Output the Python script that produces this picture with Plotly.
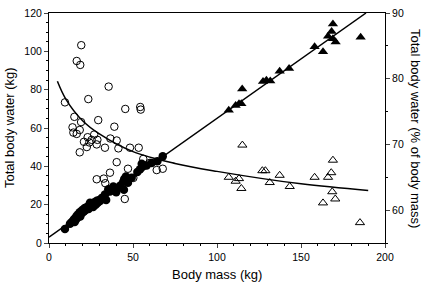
import plotly.graph_objects as go

# Filled circles: total body water (kg) vs body mass (kg)
fc_mass = [9.5, 12.5, 13.5, 14.2, 14.8, 15.3, 15.6, 16.2, 16.5, 17.0, 17.4, 17.8, 18.3, 18.6,
           19.0, 19.4, 19.8, 20.3, 20.8, 21.3, 21.8, 22.4, 23.0, 23.6, 24.4, 25.0, 25.6, 26.3,
           27.0, 27.8, 28.4, 29.0, 30.0, 30.4, 31.4, 32.3, 33.3, 34.0, 35.3, 36.3, 37.0, 38.3,
           39.3, 40.0, 41.3, 42.5, 44.2, 44.6, 44.8, 45.8, 47.0, 49.2, 52.6, 54.2, 55.2, 58.1,
           61.1, 64.5, 67.7]
fc_tbw = [7.3, 10.0, 10.8, 11.5, 12.2, 11.0, 13.0, 12.4, 14.2, 13.4, 15.0, 14.0, 16.0, 13.8,
          15.2, 16.8, 15.8, 17.5, 16.4, 18.3, 17.2, 18.0, 19.0, 17.8, 21.0, 19.5, 20.3, 18.8,
          21.2, 20.0, 22.0, 21.0, 22.5, 21.9, 23.5, 23.9, 25.3, 22.5, 28.0, 26.9, 27.8, 29.5,
          28.1, 26.5, 29.0, 30.0, 32.0, 27.8, 33.4, 34.7, 31.5, 34.1, 37.1, 38.5, 41.3, 40.5,
          41.8, 42.7, 45.2]

# Open circles: total body water (% of body mass)
oc_mass = [19.2, 16.5, 18.6, 35.5, 23.4, 45.4, 54.3, 54.6, 9.5, 15.1, 29.3, 19.1, 38.9, 14.0,
           18.3, 14.5, 16.5, 23.0, 26.9, 25.4, 28.8, 20.8, 24.0, 28.4, 36.5, 40.3, 33.3, 41.3,
           48.2, 22.5, 18.3, 53.4, 40.3, 47.0, 28.4, 32.6, 33.5, 36.3, 45.1, 50.2, 56.1, 60.1,
           64.1, 67.7]
oc_pct = [85.1, 82.7, 82.1, 78.8, 76.9, 75.4, 75.7, 75.3, 76.4, 74.2, 73.7, 73.4, 72.7, 72.6,
          72.2, 71.8, 71.6, 71.1, 71.5, 70.7, 70.7, 70.4, 70.3, 70.0, 70.9, 70.6, 69.5, 69.4,
          69.5, 69.6, 68.8, 69.5, 67.3, 66.3, 64.7, 64.8, 64.1, 65.7, 61.7, 64.9, 67.8, 67.2,
          66.1, 66.3]

# Filled triangles: total body water (kg)
ft_mass = [107.0, 111.1, 113.1, 114.5, 115.0, 127.4, 129.4, 131.7, 137.3, 142.9, 158.1, 163.1,
           166.1, 168.2, 169.0, 169.0, 170.6, 185.5]
ft_tbw = [69.3, 71.8, 72.7, 72.7, 80.3, 84.2, 84.9, 84.5, 89.6, 91.0, 102.4, 99.8,
          107.9, 110.3, 114.2, 106.6, 104.9, 107.4]

# Open triangles: total body water (% of body mass)
ot_mass = [115.1, 107.0, 111.1, 113.1, 114.5, 127.0, 128.8, 131.4, 137.3, 143.3, 158.1, 163.1,
           166.1, 168.0, 169.0, 168.6, 170.4, 185.1]
ot_pct = [69.9, 65.0, 64.4, 64.8, 63.3, 66.0, 66.0, 64.2, 65.3, 63.6, 65.0, 61.1,
          65.0, 65.7, 67.6, 62.8, 61.7, 58.1]

# Fitted lines
kg_line_mass = [0, 188.7]
kg_line_tbw = [3.0, 120.0]
pct_curve_mass = [5, 10, 20, 30, 50, 75, 100, 150, 190]
pct_curve_pct = [79.6, 76.9, 73.6, 71.6, 68.9, 67.1, 65.9, 64.0, 63.0]

x_ticks = [0, 50, 100, 150, 200]
y_ticks = [0, 20, 40, 60, 80, 100, 120]
y2_ticks = [60, 70, 80, 90]

FONT = "Liberation Sans, Arial, Helvetica, sans-serif"

fig = go.Figure()
fig.add_trace(go.Scatter(x=kg_line_mass, y=kg_line_tbw, mode="lines",
                         line=dict(color="black", width=1.5), showlegend=False))
fig.add_trace(go.Scatter(x=pct_curve_mass, y=pct_curve_pct, mode="lines", yaxis="y2",
                         line=dict(color="black", width=1.5, shape="spline"), showlegend=False))
fig.add_trace(go.Scatter(x=oc_mass, y=oc_pct, mode="markers", yaxis="y2",
                         marker=dict(symbol="circle-open", size=7.5, color="black",
                                     line=dict(width=1, color="black")), showlegend=False))
fig.add_trace(go.Scatter(x=ot_mass, y=ot_pct, mode="markers", yaxis="y2",
                         marker=dict(symbol="triangle-up-open", size=8, color="black",
                                     line=dict(width=1, color="black")), showlegend=False))
fig.add_trace(go.Scatter(x=fc_mass, y=fc_tbw, mode="markers",
                         marker=dict(symbol="circle", size=8.5, color="black"), showlegend=False))
fig.add_trace(go.Scatter(x=ft_mass, y=ft_tbw, mode="markers",
                         marker=dict(symbol="triangle-up", size=9, color="black"), showlegend=False))

fig.update_layout(
    width=426, height=282,
    margin=dict(l=49, r=41, t=7, b=39),
    paper_bgcolor="white", plot_bgcolor="white",
    font=dict(family=FONT, color="black", size=10.5),
    xaxis=dict(range=[0, 200], tickvals=x_ticks, ticks="outside", ticklen=4, tickwidth=1,
               showline=True, linecolor="black", linewidth=1, mirror=True, showgrid=False,
               zeroline=False, minor=dict(dtick=10, ticks="outside", ticklen=2, tickcolor="black")),
    yaxis=dict(range=[0, 120], tickvals=y_ticks, ticks="outside", ticklen=4, tickwidth=1,
               showline=True, linecolor="black", linewidth=1, showgrid=False, zeroline=False,
               minor=dict(dtick=5, ticks="outside", ticklen=2, tickcolor="black")),
    yaxis2=dict(range=[55, 90], tickvals=y2_ticks, overlaying="y", side="right",
                ticks="outside", ticklen=4, tickwidth=1, showline=True, linecolor="black",
                linewidth=1, showgrid=False, zeroline=False,
                minor=dict(dtick=5, ticks="outside", ticklen=2, tickcolor="black")),
    annotations=[
        dict(text="Body mass (kg)", xref="paper", yref="paper", x=0.5, y=0, yshift=-31,
             xanchor="center", yanchor="middle", showarrow=False, font=dict(size=13)),
        dict(text="Total body water (kg)", textangle=-90, xref="paper", yref="paper",
             x=0, y=0.5, xshift=-40, xanchor="center", yanchor="middle", showarrow=False,
             font=dict(size=13)),
        dict(text="Total body water (% of body mass)", textangle=90,
             xref="paper", yref="paper", x=1.0, y=0.5, xshift=31,
             xanchor="center", yanchor="middle", showarrow=False,
             font=dict(size=13)),
    ],
)

fig.write_html("out.html", config={"displayModeBar": False},
               post_script="document.body.style.margin='0px';document.body.style.padding='0px';")
